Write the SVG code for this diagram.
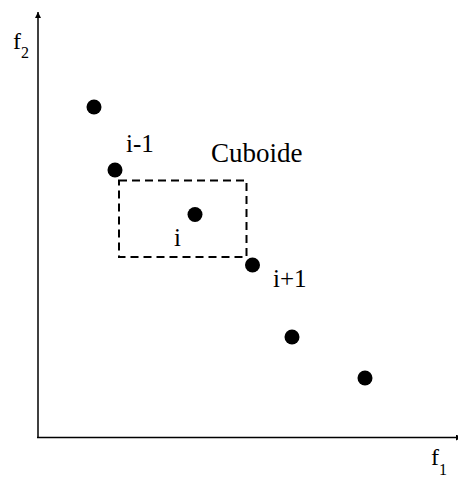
<svg xmlns="http://www.w3.org/2000/svg" width="458" height="477" viewBox="0 0 458 477">
<style>
text{font-family:'Liberation Serif','Times New Roman','DejaVu Serif',serif;fill:#000}
.lbl{font-size:25px}
.pt{fill:#000}
.axis{stroke:#000;stroke-width:1.5;fill:none}
</style>
<defs>
<marker id="ah" viewBox="0 0 10 10" refX="10" refY="5" markerWidth="8" markerHeight="6" markerUnits="userSpaceOnUse" orient="auto">
<path d="M0,0 L10,5 L0,10 Z" fill="#000"/>
</marker>
</defs>
<rect width="458" height="477" fill="#fff"/>
<g id="connectors">
<line class="axis" x1="38" y1="438" x2="38" y2="12" marker-end="url(#ah)"/>
<line class="axis" x1="37" y1="437.5" x2="462" y2="437.5" marker-end="url(#ah)"/>
<rect x="119" y="180.5" width="127.5" height="76.5" fill="none" stroke="#000" stroke-width="2" stroke-dasharray="8,5"/>
</g>
<g id="axis-labels">
<text x="13" y="49" font-size="24" font-family="Liberation Serif, serif">f<tspan font-size="16" dy="9">2</tspan></text>
<text x="431" y="465" font-size="24" font-family="Liberation Serif, serif">f<tspan font-size="16" dy="10">1</tspan></text>
</g>
<g id="p1"><circle class="pt" cx="94" cy="107" r="7.5"/></g>
<g id="p-im1"><circle class="pt" cx="115" cy="170" r="7.5"/><text class="lbl" x="126" y="152" font-family="Liberation Serif, serif">i-1</text></g>
<g id="p-i"><circle class="pt" cx="195" cy="214.5" r="7.5"/><text class="lbl" x="174" y="246" font-family="Liberation Serif, serif">i</text></g>
<g id="p-ip1"><circle class="pt" cx="252.5" cy="265" r="7.5"/><text class="lbl" x="273" y="287" font-family="Liberation Serif, serif">i+1</text></g>
<g id="p5"><circle class="pt" cx="292" cy="337" r="7.5"/></g>
<g id="p6"><circle class="pt" cx="365" cy="378" r="7.5"/></g>
<g id="cuboide-label"><text x="211" y="162" font-size="27" font-family="Liberation Serif, serif">Cuboide</text></g>
</svg>
